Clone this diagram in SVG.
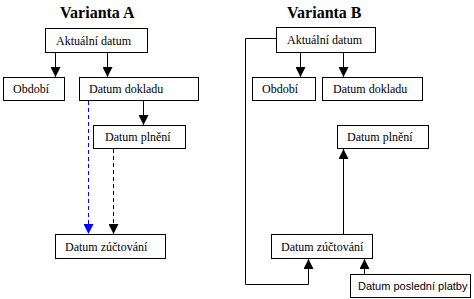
<svg xmlns="http://www.w3.org/2000/svg" width="474" height="299" viewBox="0 0 474 299">
<style>
.box{fill:#fff;stroke:#000;stroke-width:1}
.c{fill:none;stroke:#000;stroke-width:1}
.dash{stroke-dasharray:4,3}
.blue{stroke:#0000ff}
</style>
<defs>
<marker id="ah" markerUnits="userSpaceOnUse" markerWidth="10" markerHeight="10" refX="10" refY="5" orient="auto" viewBox="0 0 10 10">
<path d="M0,0 L10,5 L0,10 Z" fill="#000"/>
</marker>
<marker id="ahb" markerUnits="userSpaceOnUse" markerWidth="10" markerHeight="10" refX="10" refY="5" orient="auto" viewBox="0 0 10 10">
<path d="M0,0 L10,5 L0,10 Z" fill="#0000ff"/>
</marker>
</defs>
<g font-family="'Liberation Serif', 'Times New Roman', 'DejaVu Serif', serif" font-size="16" font-weight="bold" fill="#000">
<text x="60" y="18">Varianta A</text>
<text x="287" y="18">Varianta B</text>
</g>
<g id="connectors">
<line class="c" x1="55.5" y1="52" x2="55.5" y2="77" marker-end="url(#ah)"/>
<line class="c" x1="107.5" y1="52" x2="107.5" y2="77" marker-end="url(#ah)"/>
<line class="c" x1="143.5" y1="100" x2="143.5" y2="125" marker-end="url(#ah)"/>
<line class="c dash blue" x1="88.5" y1="101" x2="88.5" y2="234" marker-end="url(#ahb)"/>
<line class="c dash" x1="113.5" y1="149" x2="113.5" y2="234" marker-end="url(#ah)"/>
<line class="c" x1="300.5" y1="52" x2="300.5" y2="77" marker-end="url(#ah)"/>
<line class="c" x1="343.5" y1="52" x2="343.5" y2="77" marker-end="url(#ah)"/>
<line class="c" x1="343.5" y1="234" x2="343.5" y2="149" marker-end="url(#ah)"/>
<polyline class="c" points="276,38.5 245.5,38.5 245.5,284.5 308.5,284.5 308.5,259" marker-end="url(#ah)"/>
<line class="c" x1="364.5" y1="274" x2="364.5" y2="259" marker-end="url(#ah)"/>
</g>
<g font-family="'Liberation Serif', 'Times New Roman', 'DejaVu Serif', serif" font-size="12" fill="#000">
<g id="a-aktualni"><rect class="box" x="45.5" y="28.5" width="102" height="24"/><text x="56" y="45">Aktuální datum</text></g>
<g id="a-obdobi"><rect class="box" x="3.5" y="77.5" width="61" height="23"/><text x="13" y="93">Období</text></g>
<g id="a-doklad"><rect class="box" x="79.5" y="77.5" width="119" height="23"/><text x="89" y="93">Datum dokladu</text></g>
<g id="a-plneni"><rect class="box" x="93.5" y="125.5" width="92" height="23"/><text x="105" y="141">Datum plnění</text></g>
<g id="a-zuctovani"><rect class="box" x="55.5" y="234.5" width="110" height="24"/><text x="65" y="251">Datum zúčtování</text></g>
<g id="b-aktualni"><rect class="box" x="276.5" y="27.5" width="99" height="25"/><text x="287" y="44">Aktuální datum</text></g>
<g id="b-obdobi"><rect class="box" x="252.5" y="77.5" width="63" height="23"/><text x="262" y="93">Období</text></g>
<g id="b-doklad"><rect class="box" x="322.5" y="77.5" width="100" height="23"/><text x="333" y="93">Datum dokladu</text></g>
<g id="b-plneni"><rect class="box" x="337.5" y="125.5" width="91" height="23"/><text x="347" y="141">Datum plnění</text></g>
<g id="b-zuctovani"><rect class="box" x="271.5" y="234.5" width="101" height="24"/><text x="281" y="251">Datum zúčtování</text></g>
</g>
<g id="b-platba"><rect class="box" x="350.5" y="274.5" width="120" height="23"/><text x="358" y="290" font-family="'Liberation Sans', Arial, sans-serif" font-size="11" fill="#000">Datum poslední platby</text></g>
</svg>
